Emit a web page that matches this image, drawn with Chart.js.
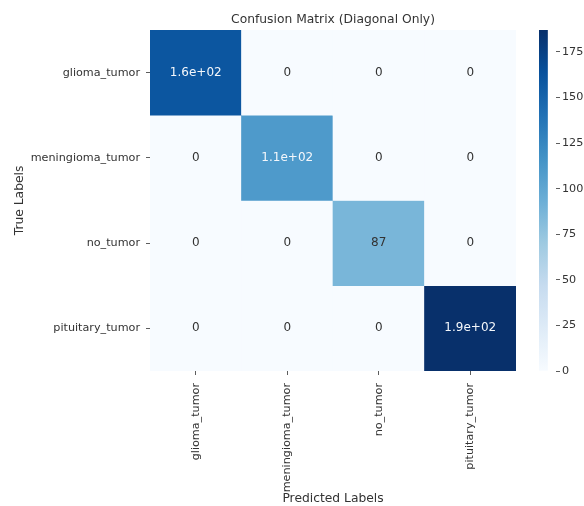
<!DOCTYPE html>
<html>
<head>
<meta charset="utf-8">
<script src="https://cdn.jsdelivr.net/npm/chart.js@4/dist/chart.umd.min.js"></script>
<style>
  html, body { margin: 0; padding: 0; background: #ffffff; }
  #wrap { position: relative; width: 584px; height: 506px; }
  #heat { position: absolute; left: 0; top: 0; }
  #cbar { position: absolute; left: 530px; top: 0; }
</style>
</head>
<body>
<div id="wrap">
  <canvas id="heat" width="584" height="506"></canvas>
  <canvas id="cbar" width="54" height="506"></canvas>
</div>
<script>
// Class names (rows = true class, columns = predicted class)
const predictedLabels = ['glioma_tumor', 'meningioma_tumor', 'no_tumor', 'pituitary_tumor'];
const trueLabels = ['glioma_tumor', 'meningioma_tumor', 'no_tumor', 'pituitary_tumor'];

// Confusion counts, diagonal only
const rowGlioma     = [160, 0, 0, 0];
const rowMeningioma = [0, 110, 0, 0];
const rowNoTumor    = [0, 0, 87, 0];
const rowPituitary  = [0, 0, 0, 187];
const matrixRows = [rowGlioma, rowMeningioma, rowNoTumor, rowPituitary];

// Colour bar ticks
const colorbarTicks = [0, 25, 50, 75, 100, 125, 150, 175];

const vmin = 0;
const vmax = Math.max(...matrixRows.flat());

const TEXT = '#333333';
const FONT = 'DejaVu Sans';

// "Blues" sequential colormap stops
const blues = ['#f7fbff', '#deebf7', '#c6dbef', '#9ecae1', '#6baed6', '#4292c6', '#2171b5', '#08519c', '#08306b'];
function hexToRgb(h) {
  return [parseInt(h.slice(1, 3), 16), parseInt(h.slice(3, 5), 16), parseInt(h.slice(5, 7), 16)];
}
const bluesRgb = blues.map(hexToRgb);
function bluesAt(t) {
  t = Math.min(1, Math.max(0, t));
  const pos = t * (bluesRgb.length - 1);
  const i = Math.min(bluesRgb.length - 2, Math.floor(pos));
  const f = pos - i;
  const a = bluesRgb[i], b = bluesRgb[i + 1];
  return [0, 1, 2].map(k => Math.round(a[k] + (b[k] - a[k]) * f));
}
function rgbStr(c) { return 'rgb(' + c[0] + ',' + c[1] + ',' + c[2] + ')'; }
function luminance(c) {
  const lin = c.map(v => {
    v /= 255;
    return v <= 0.03928 ? v / 12.92 : Math.pow((v + 0.055) / 1.055, 2.4);
  });
  return 0.2126 * lin[0] + 0.7152 * lin[1] + 0.0722 * lin[2];
}
function cellColor(v) { return bluesAt((v - vmin) / (vmax - vmin)); }

// '.2g' style number formatting
function fmt2g(v) {
  if (v === 0) return '0';
  const e = Math.floor(Math.log10(Math.abs(v)));
  if (e < -4 || e >= 2) {
    const [m, ex] = v.toExponential(1).split('e');
    const sign = ex[0] === '-' ? '-' : '+';
    const digits = ex.replace(/[+-]/, '').padStart(2, '0');
    return m + 'e' + sign + digits;
  }
  return String(Number(v.toPrecision(2)));
}

// One stacked dataset per true-label row; each cell is one unit tall
const datasets = matrixRows.map((row, r) => ({
  label: trueLabels[r],
  data: row.map(() => 1),
  counts: row,
  backgroundColor: row.map(v => rgbStr(cellColor(v))),
  borderWidth: 0,
  barPercentage: 1,
  categoryPercentage: 1,
  stack: 'cells'
}));

// Writes each cell's count at its centre
const cellValues = {
  id: 'cellValues',
  afterDatasetsDraw(chart) {
    const ctx = chart.ctx;
    ctx.save();
    ctx.font = '12px "' + FONT + '"';
    ctx.textAlign = 'center';
    ctx.textBaseline = 'middle';
    chart.data.datasets.forEach((ds, di) => {
      const meta = chart.getDatasetMeta(di);
      meta.data.forEach((bar, i) => {
        const v = ds.counts[i];
        const c = cellColor(v);
        ctx.fillStyle = luminance(c) > 0.408 ? '#333333' : '#f4f7fb';
        const cy = (bar.y + bar.base) / 2;
        ctx.fillText(fmt2g(v), bar.x, cy);
      });
    });
    ctx.restore();
  }
};

new Chart(document.getElementById('heat'), {
  type: 'bar',
  data: { labels: predictedLabels, datasets },
  options: {
    responsive: false,
    animation: false,
    layout: { padding: { left: 0, right: 68, top: 0, bottom: 0 } },
    plugins: {
      legend: { display: false },
      tooltip: { enabled: false },
      title: {
        display: true,
        text: 'Confusion Matrix (Diagonal Only)',
        color: TEXT,
        fullSize: false,
        font: { family: FONT, size: 12.3, weight: 'normal' },
        padding: { top: 12.6, bottom: 2.6 }
      }
    },
    scales: {
      x: {
        stacked: true,
        offset: true,
        grid: { drawOnChartArea: false, offset: false, tickLength: 4, color: TEXT, tickWidth: 0.8 },
        border: { display: false },
        ticks: { color: TEXT, font: { family: FONT, size: 11.2 }, minRotation: 90, maxRotation: 90, padding: 8, autoSkip: false },
        title: { display: true, text: 'Predicted Labels', color: TEXT, font: { family: FONT, size: 12.3 }, padding: { top: 0, bottom: 0 } },
        afterFit(scale) { scale.height = 506 - 371; }
      },
      y: {
        type: 'linear',
        stacked: true,
        reverse: true,
        min: 0,
        max: trueLabels.length,
        grid: { drawOnChartArea: false, tickLength: 4, color: TEXT, tickWidth: 0.8 },
        border: { display: false },
        afterBuildTicks(scale) {
          scale.ticks = trueLabels.map((_, i) => ({ value: i + 0.5 }));
        },
        ticks: {
          color: TEXT,
          font: { family: FONT, size: 11.2 },
          padding: 6,
          autoSkip: false,
          callback: (v) => trueLabels[Math.floor(v)]
        },
        title: { display: true, text: 'True Labels', color: TEXT, font: { family: FONT, size: 12.3 }, padding: { top: 12, bottom: 0 } },
        afterFit(scale) { scale.width = 150; }
      }
    }
  },
  plugins: [cellValues]
});

// Colour bar: a single bar filled with the colormap gradient
new Chart(document.getElementById('cbar'), {
  type: 'bar',
  data: {
    labels: [''],
    datasets: [{
      data: [vmax],
      borderWidth: 0,
      barPercentage: 1,
      categoryPercentage: 1,
      backgroundColor(context) {
        const area = context.chart.chartArea;
        if (!area) return blues[0];
        const g = context.chart.ctx.createLinearGradient(0, area.bottom, 0, area.top);
        blues.forEach((c, i) => g.addColorStop(i / (blues.length - 1), c));
        return g;
      }
    }]
  },
  options: {
    responsive: false,
    animation: false,
    layout: { padding: { left: 9, right: 0, top: 30, bottom: 506 - 371 } },
    plugins: { legend: { display: false }, tooltip: { enabled: false } },
    scales: {
      x: { display: false, offset: false },
      y: {
        position: 'right',
        min: vmin,
        max: vmax,
        grid: { drawOnChartArea: false, tickLength: 4, color: TEXT, tickWidth: 0.8 },
        border: { display: false },
        afterBuildTicks(scale) {
          scale.ticks = colorbarTicks.map(v => ({ value: v }));
        },
        ticks: { color: TEXT, font: { family: FONT, size: 11.2 }, padding: 2 },
        afterFit(scale) { scale.width = 28; }
      }
    }
  }
});
</script>
</body>
</html>
